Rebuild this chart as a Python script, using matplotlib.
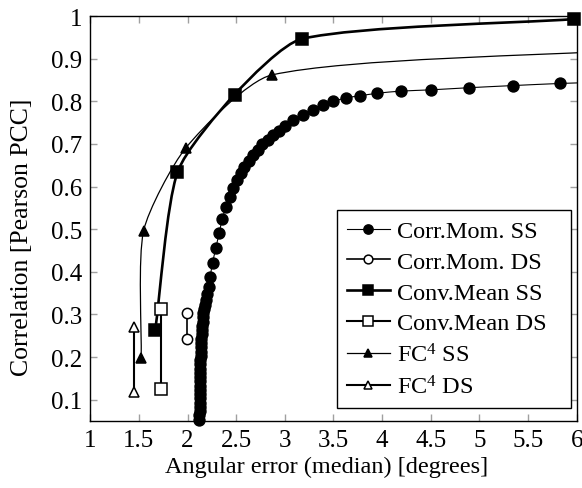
import numpy as np
import matplotlib.pyplot as plt
from matplotlib.path import Path
from matplotlib.patches import PathPatch, Rectangle
from matplotlib.lines import Line2D

plt.rcParams['font.family'] = ['Liberation Serif', 'DejaVu Serif']
plt.rcParams['mathtext.fontset'] = 'custom'
plt.rcParams['mathtext.rm'] = 'Liberation Serif'
plt.rcParams['mathtext.it'] = 'Liberation Serif:italic'

# Corr.Mom. SS curve (angular error vs. correlation)
corr_ss_x = [2.123, 2.123, 2.124, 2.124, 2.125, 2.125, 2.126, 2.126, 2.127, 2.128,
             2.129, 2.130, 2.131, 2.132, 2.133, 2.135, 2.136, 2.138, 2.140, 2.142,
             2.145, 2.148, 2.151, 2.155, 2.159, 2.164, 2.170, 2.177, 2.186, 2.200,
             2.216, 2.233, 2.257, 2.292, 2.326, 2.357, 2.395, 2.432, 2.467, 2.508,
             2.545, 2.585, 2.628, 2.673, 2.720, 2.770, 2.823, 2.880, 2.940, 3.004,
             3.089, 3.186, 3.285, 3.388, 3.500, 3.624, 3.768, 3.950, 4.189, 4.500,
             4.890, 5.340, 5.830, 6.400]
corr_ss_y = [0.053, 0.063, 0.073, 0.083, 0.093, 0.103, 0.113, 0.123, 0.133, 0.143,
             0.153, 0.163, 0.173, 0.183, 0.193, 0.203, 0.213, 0.223, 0.233, 0.243,
             0.253, 0.263, 0.273, 0.283, 0.293, 0.303, 0.313, 0.323, 0.334, 0.348,
             0.364, 0.389, 0.421, 0.457, 0.492, 0.524, 0.552, 0.575, 0.596, 0.615,
             0.631, 0.646, 0.661, 0.674, 0.687, 0.699, 0.710, 0.721, 0.731, 0.742,
             0.756, 0.767, 0.780, 0.791, 0.800, 0.808, 0.813, 0.819, 0.824, 0.827,
             0.832, 0.837, 0.842, 0.846]

corr_ds_x = [1.997, 1.997]
corr_ds_y = [0.304, 0.242]

conv_ss_x = [1.668, 1.897, 2.483, 3.180, 5.974]
conv_ss_y = [0.263, 0.634, 0.816, 0.947, 0.993]

conv_ds_x = [1.73, 1.73]
conv_ds_y = [0.312, 0.126]

fc4_ss_x = [1.524, 1.548, 1.983, 2.867, 6.500]
fc4_ss_y = [0.199, 0.496, 0.691, 0.862, 0.920]

fc4_ds_x = [1.445, 1.445]
fc4_ds_y = [0.271, 0.117]

x_ticks = [1, 1.5, 2, 2.5, 3, 3.5, 4, 4.5, 5, 5.5, 6]
y_ticks = [0.1, 0.2, 0.3, 0.4, 0.5, 0.6, 0.7, 0.8, 0.9, 1]

XMIN, XMAX, YMIN, YMAX = 1, 6, 0.05, 1.0
FIG_W, FIG_H = 5.82, 4.89
AX_RECT = [0.155, 0.137, 0.836, 0.828]
# pixels per data unit, so the curve tangents are built in screen proportions
SX = AX_RECT[2] * FIG_W * 100 / (XMAX - XMIN)
SY = AX_RECT[3] * FIG_H * 100 / (YMAX - YMIN)


def smooth_path(xs, ys, k=0.22):
    # bezier path through the points, tangent parallel to the neighbours' chord,
    # handle length proportional to the segment length
    p = np.column_stack([np.array(xs) * SX, np.array(ys) * SY])
    n = len(p)
    verts = [p[0]]
    codes = [Path.MOVETO]

    def unit(v):
        return v / np.hypot(*v)

    for i in range(n - 1):
        seg = np.hypot(*(p[i + 1] - p[i]))
        prev = p[i - 1] if i > 0 else p[i]
        nxt = p[i + 2] if i + 2 < n else p[i + 1]
        c1 = p[i] + k * seg * unit(p[i + 1] - prev)
        c2 = p[i + 1] - k * seg * unit(nxt - p[i])
        verts += [c1, c2, p[i + 1]]
        codes += [Path.CURVE4] * 3
    verts = np.array(verts) / [SX, SY]
    return Path(verts, codes)


fig = plt.figure(figsize=(FIG_W, FIG_H), dpi=100)
ax = fig.add_axes(AX_RECT)
ax.set_xlim(XMIN, XMAX)
ax.set_ylim(YMIN, YMAX)

styles = [
    # x, y, marker, face, size, linewidth, smooth, label
    (corr_ss_x, corr_ss_y, 'o', 'black', 7.8, 0.8, True, 'Corr.Mom. SS'),
    (corr_ds_x, corr_ds_y, 'o', 'white', 7.4, 1.2, False, 'Corr.Mom. DS'),
    (conv_ss_x, conv_ss_y, 's', 'black', 8.6, 1.9, True, 'Conv.Mean SS'),
    (conv_ds_x, conv_ds_y, 's', 'white', 8.6, 1.5, False, 'Conv.Mean DS'),
    (fc4_ss_x, fc4_ss_y, '^', 'black', 7.2, 0.9, True, 'FC$^4$ SS'),
    (fc4_ds_x, fc4_ds_y, '^', 'white', 7.6, 1.5, False, 'FC$^4$ DS'),
]

handles = []
for xs, ys, mk, face, ms, lw, smooth, label in styles:
    if smooth:
        path = smooth_path(xs, ys)
    else:
        path = Path(np.column_stack([xs, ys]))
    ax.add_patch(PathPatch(path, facecolor='none', edgecolor='black', lw=lw, zorder=2))
    xs_a = np.array(xs)
    ys_a = np.array(ys)
    inside = xs_a <= XMAX
    ax.plot(xs_a[inside], ys_a[inside], linestyle='none', marker=mk, markersize=ms,
            markerfacecolor=face, markeredgecolor='black', markeredgewidth=1.1,
            clip_on=False, zorder=3)
    handles.append(Line2D([], [], color='black', lw=lw, marker=mk, markersize=ms * 0.85,
                          markerfacecolor=face, markeredgecolor='black',
                          markeredgewidth=1.1, label=label))

ax.set_xticks(x_ticks)
ax.set_xticklabels(['1', '1.5', '2', '2.5', '3', '3.5', '4', '4.5', '5', '5.5', '6'])
ax.set_yticks(y_ticks)
ax.set_yticklabels(['0.1', '0.2', '0.3', '0.4', '0.5', '0.6', '0.7', '0.8', '0.9', '1'])
ax.tick_params(direction='in', length=5, width=1, color='#a0a0a0', labelsize=18,
               top=True, right=True, pad=6)
for s in ax.spines.values():
    s.set_linewidth(1.0)

ax.set_xlabel('Angular error (median) [degrees]', fontsize=17.5)
ax.xaxis.set_label_coords(0.485, -0.085)
ax.set_ylabel('Correlation [Pearson PCC]', fontsize=18.5)
ax.yaxis.set_label_coords(-0.117, 0.455)

leg = ax.legend(handles=handles, loc='lower right', bbox_to_anchor=(0.958, 0.032),
                borderaxespad=0, fontsize=17.5, frameon=False,
                handlelength=1.75, handletextpad=0.3, labelspacing=0.36, borderpad=0.4)

# legend box with the wider right margin
fig.canvas.draw()
bb = leg.get_window_extent().transformed(ax.transAxes.inverted())
ax.add_patch(Rectangle((bb.x0, bb.y0), 0.988 - bb.x0, bb.height, transform=ax.transAxes,
                       facecolor='white', edgecolor='black', lw=1.0, zorder=4))
leg.set_zorder(5)

fig.savefig('out.png', dpi=100)
